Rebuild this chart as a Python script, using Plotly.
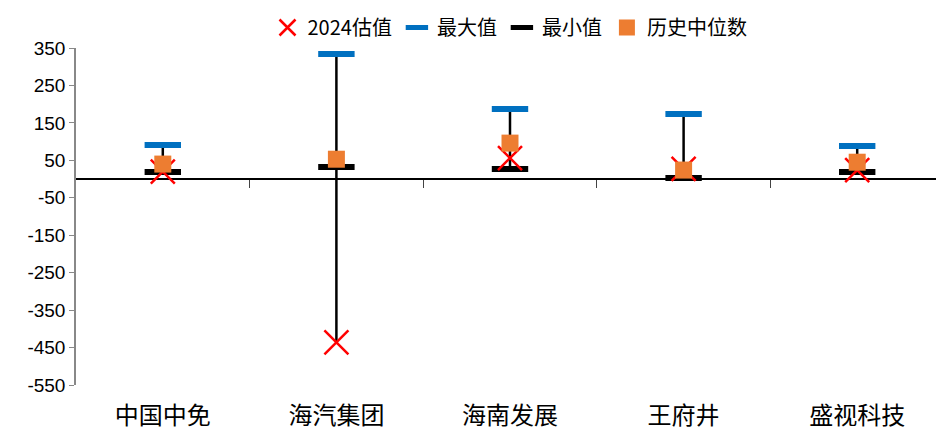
import plotly.graph_objects as go

companies = ["中国中免", "海汽集团", "海南发展", "王府井", "盛视科技"]
est_2024 = [20, -436, 56, 27, 24]
max_vals = [91, 334, 187, 174, 88]
min_vals = [19, 32, 27, 3, 19]
median_vals = [40, 53, 96, 24, 45]
y_ticks = [350, 250, 150, 50, -50, -150, -250, -350, -450, -550]

cjk = "Noto Sans CJK SC"
latin = "Liberation Sans, Arial"

# vertical ranges: from max down to the lowest of min / estimate
line_x, line_y = [], []
for name, hi, lo, est in zip(companies, max_vals, min_vals, est_2024):
    line_x += [name, name, None]
    line_y += [hi, min(lo, est), None]

fig = go.Figure()
fig.add_trace(go.Scatter(x=line_x, y=line_y, mode="lines", line={"color": "black", "width": 2.5},
                         showlegend=False, hoverinfo="skip"))
fig.add_trace(go.Scatter(x=companies, y=max_vals, mode="markers", name="最大值", legendrank=2,
                         marker={"symbol": "line-ew-open", "size": 26, "color": "#0070C0",
                                 "line": {"color": "#0070C0", "width": 6}}))
fig.add_trace(go.Scatter(x=companies, y=min_vals, mode="markers", name="最小值", legendrank=3,
                         marker={"symbol": "line-ew-open", "size": 26, "color": "black",
                                 "line": {"color": "black", "width": 6}}))
fig.add_trace(go.Scatter(x=companies, y=est_2024, mode="markers", name="2024估值", legendrank=1,
                         marker={"symbol": "x-thin-open", "size": 24, "color": "#FF0000",
                                 "line": {"color": "#FF0000", "width": 2.5}}))
fig.add_trace(go.Scatter(x=companies, y=median_vals, mode="markers", name="历史中位数", legendrank=4,
                         marker={"symbol": "square", "size": 17, "color": "#ED7D31"}))

# page body adds an 8px margin, so the figure is sized to fit inside the window
fig.update_layout(
    width=936, height=430,
    margin={"l": 68, "r": 0, "t": 40, "b": 53, "autoexpand": False},
    plot_bgcolor="white", paper_bgcolor="white",
    font={"family": cjk, "size": 18, "color": "black"},
    showlegend=True,
    legend={"orientation": "h", "x": 0.5, "xanchor": "center", "y": 1 + 40 / 337, "yanchor": "top",
            "font": {"family": cjk, "size": 20}, "itemwidth": 30, "tracegroupgap": 0},
    xaxis={"type": "category", "categoryarray": companies, "range": [-0.5, 4.5],
           "showline": False, "showgrid": False, "ticks": "", "ticklabelstandoff": 14,
           "tickfont": {"family": cjk, "size": 24}},
    xaxis2={"overlaying": "x", "anchor": "free", "position": 550 / 900, "range": [-0.5, 4.5],
            "tickvals": [0.5, 1.5, 2.5, 3.5], "showticklabels": False, "ticks": "outside",
            "ticklen": 8, "tickcolor": "#444", "showline": False, "showgrid": False, "zeroline": False},
    yaxis={"range": [-550, 350], "tickvals": y_ticks, "ticktext": [str(v) for v in y_ticks],
           "showgrid": False, "showline": True, "linecolor": "#888", "linewidth": 1.5,
           "ticks": "outside", "ticklen": 5, "tickcolor": "#888", "zeroline": True,
           "zerolinecolor": "black", "zerolinewidth": 1.5, "tickfont": {"family": latin, "size": 19}},
)
fig.add_trace(go.Scatter(x=[None], y=[None], xaxis="x2", showlegend=False, hoverinfo="skip"))

fig.write_html("out.html")
